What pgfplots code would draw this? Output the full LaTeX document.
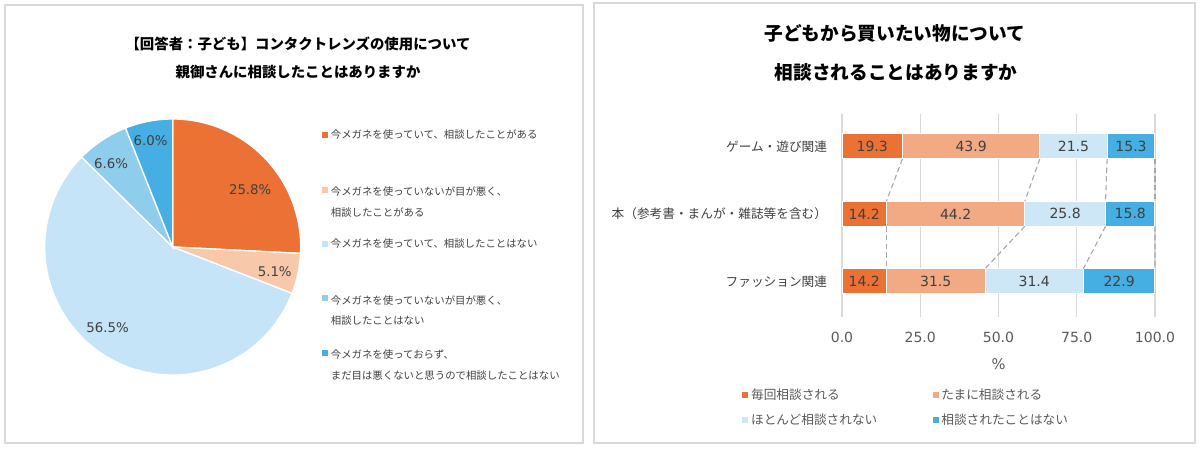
\documentclass[border=0pt]{standalone}
\usepackage{fontspec}
\setmainfont{Noto Sans CJK JP}
\newfontfamily\dv{DejaVu Sans}
\usepackage{pgfplots}
\pgfplotsset{compat=1.18}
\usepackage{pgfplotstable}

\definecolor{orng}{HTML}{EB7134}
\definecolor{peachbar}{HTML}{F2AA84}
\definecolor{peachpie}{HTML}{F8C8AB}
\definecolor{palebar}{HTML}{CDE7F6}
\definecolor{palepie}{HTML}{C5E4F7}
\definecolor{midblue}{HTML}{8FCDEC}
\definecolor{blu}{HTML}{45AEE2}
\definecolor{framegray}{HTML}{D9D9D9}
\definecolor{tickgray}{HTML}{595959}
\definecolor{labgray}{HTML}{404040}
\definecolor{sergray}{HTML}{A6A6A6}

% rows: 0 = game, 1 = books, 2 = fashion
\pgfplotstableread{
cat a    b    c    d
0   19.3 43.9 21.5 15.3
1   14.2 44.2 25.8 15.8
2   14.2 31.5 31.4 22.9
}\bardata

\newcommand\twolines[2]{\begin{tabular}[t]{@{}l@{}}#1\\#2\end{tabular}}

\pgfplotsset{
  barframe/.style={
    at={(barSW)}, anchor=south west,
    width=234.75pt, height=152.25pt, scale only axis,
    xmin=0, xmax=100, ymin=-0.48, ymax=2.53, y dir=reverse,
  },
}

\begin{document}
\begin{tikzpicture}
% frame, titles and anchor points, in pixels (y down)
\begin{scope}[x=0.75pt,y=-0.75pt,shift={(0,339pt)}]
  \fill[white] (0,0) rectangle (1200,452);
  \draw[framegray,line width=0.9pt] (5,5) rectangle (583,443);
  \draw[framegray,line width=0.9pt] (594,3) rectangle (1195,443);
  \node[font=\fontsize{10.8}{13}\selectfont\bfseries] at (298,44) {【回答者：子ども】コンタクトレンズの使用について};
  \node[font=\fontsize{10.8}{13}\selectfont\bfseries] at (298,72) {親御さんに相談したことはありますか};
  \node[font=\fontsize{14}{16}\selectfont\bfseries] at (895,33) {子どもから買いたい物について};
  \node[font=\fontsize{14}{16}\selectfont\bfseries] at (896,72) {相談されることはありますか};
  \coordinate (pieC) at (172.7,247);
  \coordinate (barSW) at (842,317);
\end{scope}

% ---- pie ----
\begin{axis}[
  at={(pieC)}, anchor=center,
  width=192pt, height=192pt, scale only axis,
  xmin=-1, xmax=1, ymin=-1, ymax=1,
  hide axis, clip=false,
  legend cell align=left,
  legend image code/.code={\fill[#1,draw=none] (0pt,-2.2pt) rectangle (4.5pt,2.3pt);},
  legend style={at={(1.083,0.968)}, anchor=north west, draw=none, fill=none,
    inner sep=0pt, row sep={40.7pt,between origins},
    font=\fontsize{7.8}{15.3}\selectfont, text=labgray},
]
\addlegendimage{fill=orng,draw=none}
\addlegendentry{今メガネを使っていて、相談したことがある}
\addlegendimage{fill=peachpie,draw=none}
\addlegendentry{\twolines{今メガネを使っていないが目が悪く、}{相談したことがある}}
\addlegendimage{fill=palepie,draw=none}
\addlegendentry{今メガネを使っていて、相談したことはない}
\addlegendimage{fill=midblue,draw=none}
\addlegendentry{\twolines{今メガネを使っていないが目が悪く、}{相談したことはない}}
\addlegendimage{fill=blu,draw=none}
\addlegendentry{\twolines{今メガネを使っておらず、}{まだ目は悪くないと思うので相談したことはない}}

\gdef\angA{90}
\foreach \val/\col/\lr/\lo in {25.8/orng/0.754/-7, 5.1/peachpie/0.82/-1.5,
    56.5/palepie/0.81/-6, 6.6/midblue/0.81/3, 6.0/blu/0.845/1} {
  \pgfmathsetmacro\angB{\angA-3.6*\val}
  \pgfmathsetmacro\angM{(\angA+\angB)/2+\lo}
  \pgfmathsetmacro\lx{\lr*cos(\angM)}
  \pgfmathsetmacro\ly{\lr*sin(\angM)}
  \pgfmathsetmacro\sx{cos(\angA)}
  \pgfmathsetmacro\sy{sin(\angA)}
  \edef\tmp{%
    \noexpand\fill[\col,draw=white,line width=1pt] (axis cs:0,0) -- (axis cs:\sx,\sy)
      arc[start angle=\angA, end angle=\angB, radius=96pt] -- cycle;}
  \tmp
  \edef\tmp{%
    \noexpand\node[text=labgray] at (axis cs:\lx,\ly) {\noexpand\dv\noexpand\fontsize{10}{12}\noexpand\selectfont \val\noexpand\%};}
  \tmp
  \xdef\angA{\angB}
}
\end{axis}

% ---- stacked bars ----
\begin{axis}[
  barframe,
  xbar stacked, bar width=18.75pt,
  ytick={0,1,2},
  yticklabels={ゲーム・遊び関連,本（参考書・まんが・雑誌等を含む）,ファッション関連},
  yticklabel style={font=\fontsize{9.5}{11}\selectfont, text=labgray,
    anchor=east, inner sep=0pt, xshift=-11pt},
  xtick={0,25,50,75,100},
  xticklabel={\pgfmathprintnumber[fixed,fixed zerofill,precision=1,assume math mode=true]{\tick}},
  xticklabel style={font=\dv\fontsize{10.5}{12}\selectfont, text=tickgray,
    anchor=center, yshift=-15.5pt},
  xlabel={\%},
  xlabel style={at={(axis description cs:0.5,-0.232)}, anchor=center,
    font=\dv\fontsize{11}{13}\selectfont, text=tickgray},
  xmajorgrids, grid style={draw=framegray, line width=0.9pt},
  axis line style={draw=none}, major tick style={draw=none},
  legend columns=2,
  legend cell align=left,
  legend image code/.code={\fill[#1,draw=none] (0pt,-2.2pt) rectangle (4.5pt,2.3pt);},
  legend style={at={(-0.319,-0.34)}, anchor=north west, draw=none, fill=none,
    inner sep=0pt, row sep={18.75pt,between origins},
    /tikz/every even column/.append style={column sep=39.5pt},
    font=\fontsize{9.5}{11}\selectfont, text=tickgray},
]
\addplot[fill=orng, draw=white, line width=0.8pt] table[x=a, y=cat] {\bardata};
\addlegendentry{毎回相談される}
\addplot[fill=peachbar, draw=white, line width=0.8pt] table[x=b, y=cat] {\bardata};
\addlegendentry{たまに相談される}
\addplot[fill=palebar, draw=white, line width=0.8pt] table[x=c, y=cat] {\bardata};
\addlegendentry{ほとんど相談されない}
\addplot[fill=blu, draw=white, line width=0.8pt] table[x=d, y=cat] {\bardata};
\addlegendentry{相談されたことはない}
\end{axis}

% ---- overlay: value labels and series lines, same frame as the bars ----
\begin{axis}[barframe, hide axis, clip=false]
\foreach \row in {0,1,2} {
  \gdef\cum{0}
  \foreach \cn in {a,b,c,d} {
    \pgfplotstablegetelem{\row}{\cn}\of\bardata
    \let\val\pgfplotsretval
    \pgfmathsetmacro\midx{\cum+\val/2}
    \pgfmathsetmacro\newcum{\cum+\val}
    \xdef\cum{\newcum}
    \edef\tmp{\noexpand\node[text=labgray] at (axis cs:\midx,\row)
      {\noexpand\dv\noexpand\fontsize{10.5}{12}\noexpand\selectfont \val};}
    \tmp
  }
}
\foreach \row/\nxt in {0/1,1/2} {
  \gdef\cA{0}\gdef\cB{0}
  \pgfmathsetmacro\yA{\row+0.185}
  \pgfmathsetmacro\yB{\nxt-0.185}
  \foreach \cn in {a,b,c,d} {
    \pgfplotstablegetelem{\row}{\cn}\of\bardata
    \pgfmathsetmacro\tA{\cA+\pgfplotsretval}\xdef\cA{\tA}
    \pgfplotstablegetelem{\nxt}{\cn}\of\bardata
    \pgfmathsetmacro\tB{\cB+\pgfplotsretval}\xdef\cB{\tB}
    \edef\tmp{\noexpand\draw[sergray,line width=0.8pt,dash pattern=on 4pt off 2.5pt]
      (axis cs:\cA,\yA) -- (axis cs:\cB,\yB);}
    \tmp
  }
}
\end{axis}
\end{tikzpicture}
\end{document}
